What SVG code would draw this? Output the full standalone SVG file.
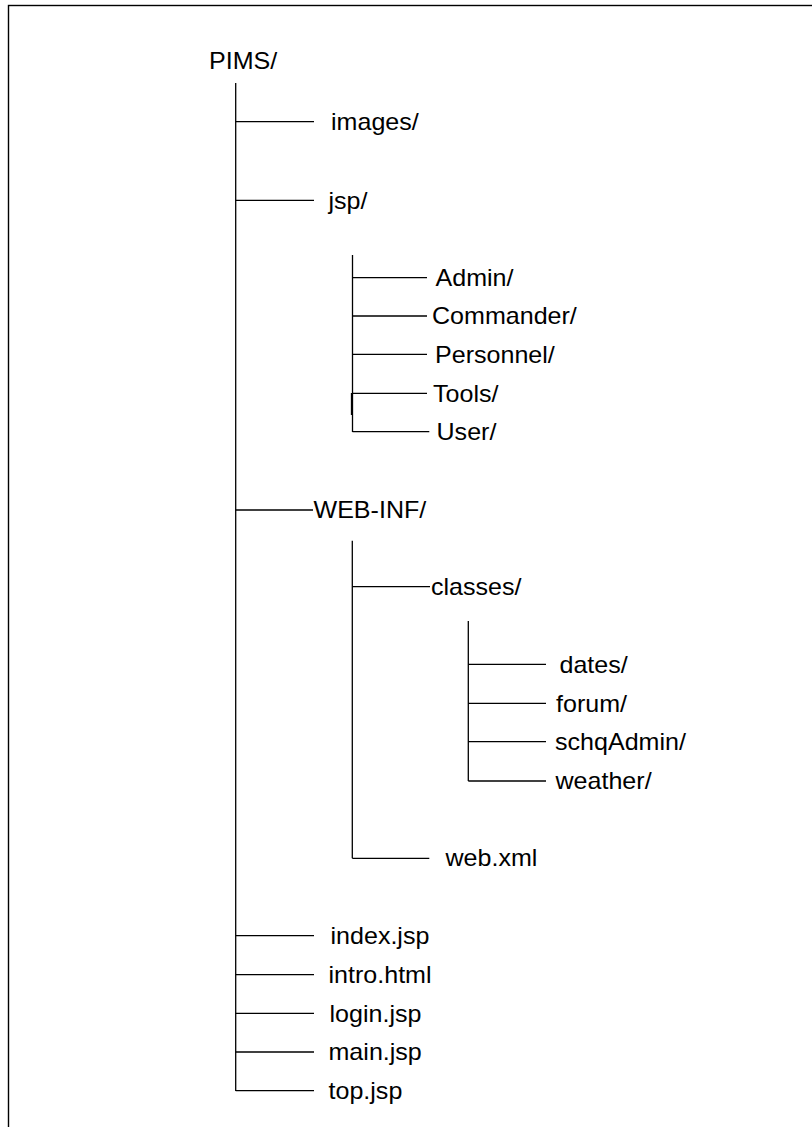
<svg xmlns="http://www.w3.org/2000/svg" width="812" height="1127" viewBox="0 0 812 1127">
  <style>
    .lbl { font-family: "Liberation Sans", Arial, sans-serif; font-size: 23px; fill: #000; }
    .ln { stroke: #000; stroke-width: 1.3; fill: none; }
  </style>
  <rect width="812" height="1127" fill="#fff"/>
  <!-- page frame -->
  <rect x="8.5" y="5.5" width="830" height="1150" fill="none" stroke="#000" stroke-width="1.4"/>

  <!-- tree connectors -->
  <g id="connectors" class="ln">
    <!-- root trunk -->
    <line x1="235.7" y1="83" x2="235.7" y2="1091"/>
    <line x1="235.7" y1="121.7" x2="314" y2="121.7"/>
    <line x1="235.7" y1="200.3" x2="314" y2="200.3"/>
    <line x1="235.7" y1="510" x2="313" y2="510"/>
    <line x1="235.7" y1="935.7" x2="314" y2="935.7"/>
    <line x1="235.7" y1="974.7" x2="314" y2="974.7"/>
    <line x1="235.7" y1="1013.3" x2="314" y2="1013.3"/>
    <line x1="235.7" y1="1052" x2="314" y2="1052"/>
    <line x1="235.7" y1="1090.7" x2="314" y2="1090.7"/>
    <!-- jsp branch -->
    <line x1="352.5" y1="255" x2="352.5" y2="432"/>
    <line x1="351.5" y1="393" x2="351.5" y2="415"/>
    <line x1="352.5" y1="277.7" x2="427" y2="277.7"/>
    <line x1="352.5" y1="316" x2="427" y2="316"/>
    <line x1="352.5" y1="354.3" x2="427" y2="354.3"/>
    <line x1="352.5" y1="393.3" x2="427" y2="393.3"/>
    <line x1="352.5" y1="431.7" x2="429.3" y2="431.7"/>
    <!-- WEB-INF branch -->
    <line x1="352.3" y1="540.7" x2="352.3" y2="858.3"/>
    <line x1="352.3" y1="586.7" x2="430" y2="586.7"/>
    <line x1="352.3" y1="858.3" x2="429.3" y2="858.3"/>
    <!-- classes branch -->
    <line x1="468.3" y1="621" x2="468.3" y2="781"/>
    <line x1="468.3" y1="664.3" x2="546" y2="664.3"/>
    <line x1="468.3" y1="703.3" x2="546" y2="703.3"/>
    <line x1="468.3" y1="741.7" x2="546" y2="741.7"/>
    <line x1="468.3" y1="781" x2="546" y2="781"/>
  </g>

  <!-- folder and file nodes -->
  <g id="n-pims"><text class="lbl" transform="matrix(1.09 0 0 1 209 69)">PIMS/</text></g>
  <g id="n-images"><text class="lbl" transform="matrix(1.09 0 0 1 331 130)">images/</text></g>
  <g id="n-jsp"><text class="lbl" transform="matrix(1.09 0 0 1 328.5 208.5)">jsp/</text></g>
  <g id="n-admin"><text class="lbl" transform="matrix(1.09 0 0 1 435.5 285.5)">Admin/</text></g>
  <g id="n-commander"><text class="lbl" transform="matrix(1.09 0 0 1 432 324)">Commander/</text></g>
  <g id="n-personnel"><text class="lbl" transform="matrix(1.09 0 0 1 435 362.5)">Personnel/</text></g>
  <g id="n-tools"><text class="lbl" transform="matrix(1.09 0 0 1 433 401.5)">Tools/</text></g>
  <g id="n-user"><text class="lbl" transform="matrix(1.09 0 0 1 436.5 439.5)">User/</text></g>
  <g id="n-webinf"><text class="lbl" transform="matrix(1.09 0 0 1 313.5 518)">WEB-INF/</text></g>
  <g id="n-classes"><text class="lbl" transform="matrix(1.09 0 0 1 431 594.5)">classes/</text></g>
  <g id="n-dates"><text class="lbl" transform="matrix(1.09 0 0 1 559.5 672.5)">dates/</text></g>
  <g id="n-forum"><text class="lbl" transform="matrix(1.09 0 0 1 556 711.5)">forum/</text></g>
  <g id="n-schqadmin"><text class="lbl" transform="matrix(1.09 0 0 1 555 749.5)">schqAdmin/</text></g>
  <g id="n-weather"><text class="lbl" transform="matrix(1.09 0 0 1 555.5 789)">weather/</text></g>
  <g id="n-webxml"><text class="lbl" transform="matrix(1.09 0 0 1 445.5 866)">web.xml</text></g>
  <g id="n-index"><text class="lbl" transform="matrix(1.09 0 0 1 330.5 944)">index.jsp</text></g>
  <g id="n-intro"><text class="lbl" transform="matrix(1.09 0 0 1 328.5 983)">intro.html</text></g>
  <g id="n-login"><text class="lbl" transform="matrix(1.09 0 0 1 329.5 1021.5)">login.jsp</text></g>
  <g id="n-main"><text class="lbl" transform="matrix(1.09 0 0 1 328.5 1060)">main.jsp</text></g>
  <g id="n-top"><text class="lbl" transform="matrix(1.09 0 0 1 328.5 1099)">top.jsp</text></g>
</svg>
